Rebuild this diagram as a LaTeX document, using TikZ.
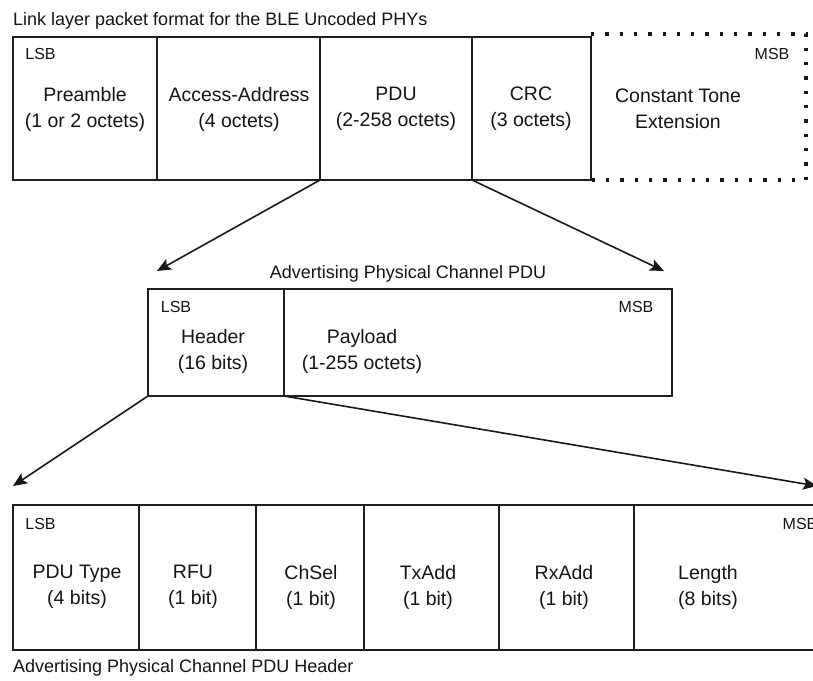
\documentclass[tikz,border=0pt]{standalone}
\usepackage{fontspec}
\setmainfont{Liberation Sans}
\usetikzlibrary{arrows.meta}
\begin{document}
\begin{tikzpicture}[x=1pt,y=-1pt,
  cell/.style={draw=black!88, line width=1.6pt, rectangle, inner sep=0pt, outer sep=0pt, anchor=north west},
  ghost/.style={rectangle, inner sep=0pt, outer sep=0pt, anchor=north west},
  lbl/.style={font=\fontsize{19.5}{26}\selectfont, align=center, inner sep=0pt, text=black!92},
  tag/.style={font=\fontsize{16}{18}\selectfont, inner sep=0pt, text=black!92},
  captext/.style={font=\fontsize{18}{20}\selectfont, inner sep=0pt, text=black!92},
  arr/.style={draw=black!90, line width=1.6pt, -{Stealth[length=14pt,width=12pt,inset=3pt]}},
  dots/.style={draw=black!90, line width=3.3pt, dash pattern=on 3.3pt off 11pt}]
\useasboundingbox (0,0) rectangle (813,680);
\clip (0,0) rectangle (813,680);

% ---------- top row ----------
\node[captext, anchor=base west] (t1) at (13,25) {Link layer packet format for the BLE Uncoded PHYs};
\node[cell, minimum width=144pt, minimum height=143pt] (pre) at (13,37) {};
\node[cell, minimum width=163pt, minimum height=143pt] (aa) at (157,37) {};
\node[cell, minimum width=152pt, minimum height=143pt] (pdu) at (320,37) {};
\node[cell, minimum width=119pt, minimum height=143pt] (crc) at (472,37) {};
\node[ghost, minimum width=215pt, minimum height=146pt] (cte) at (591,34) {};
\coordinate (cteTL) at (591,34);
\draw[dots] (cteTL) -- (cte.north east) -- (cte.south east) -- (cte.south west);

\node[tag] (lsb1) at (40.5,54) {LSB};
\node[tag] (msb1) at (772,54) {MSB};
\node[lbl] (l1) at (85,109) {Preamble\\(1 or 2 octets)};
\node[lbl] (l2) at (239,109) {Access-Address\\(4 octets)};
\node[lbl] (l3) at (396,109) {PDU\\(2-258 octets)};
\node[lbl] (l4) at (531,109) {CRC\\(3 octets)};
\node[lbl] (l5) at (678,109) {Constant Tone\\Extension};

% ---------- middle row ----------
\node[captext, anchor=base] (t2) at (408,278) {Advertising Physical Channel PDU};
\node[cell, minimum width=136pt, minimum height=107pt] (hdr) at (148,289) {};
\node[cell, minimum width=388pt, minimum height=107pt] (pay) at (284,289) {};
\node[tag] (lsb2) at (176,307) {LSB};
\node[tag] (msb2) at (636,307) {MSB};
\node[lbl] (m1) at (213,351) {Header\\(16 bits)};
\node[lbl] (m2) at (362,351) {Payload\\(1-255 octets)};

% ---------- bottom row ----------
\node[cell, minimum width=126pt, minimum height=145pt] (b1) at (13,505) {};
\node[cell, minimum width=117pt, minimum height=145pt] (b2) at (139,505) {};
\node[cell, minimum width=108pt, minimum height=145pt] (b3) at (256,505) {};
\node[cell, minimum width=135pt, minimum height=145pt] (b4) at (364,505) {};
\node[cell, minimum width=135pt, minimum height=145pt] (b5) at (499,505) {};
\node[cell, minimum width=206pt, minimum height=145pt] (b6) at (634,505) {};
\node[tag] (lsb3) at (40.5,524) {LSB};
\node[tag] (msb3) at (800,524) {MSB};
\node[lbl] (n1) at (77,587) {PDU Type\\(4 bits)};
\node[lbl] (n2) at (193,587) {RFU\\(1 bit)};
\node[lbl] (n3) at (311,587) {ChSel\\(1 bit)};
\node[lbl] (n4) at (428,587) {TxAdd\\(1 bit)};
\node[lbl] (n5) at (564,587) {RxAdd\\(1 bit)};
\node[lbl] (n6) at (708,587) {Length\\(8 bits)};
\node[captext, anchor=base west] (t3) at (13,672) {Advertising Physical Channel PDU Header};

% ---------- connectors ----------
\coordinate (e1) at (157,271);
\coordinate (e2) at (664,271);
\coordinate (e3) at (13,486);
\coordinate (e4) at (817,486);
\draw[arr] (pdu.south west) -- (e1);
\draw[arr] (crc.south west) -- (e2);
\draw[arr] (hdr.south west) -- (e3);
\draw[arr] (pay.south west) -- (e4);
\end{tikzpicture}
\end{document}
